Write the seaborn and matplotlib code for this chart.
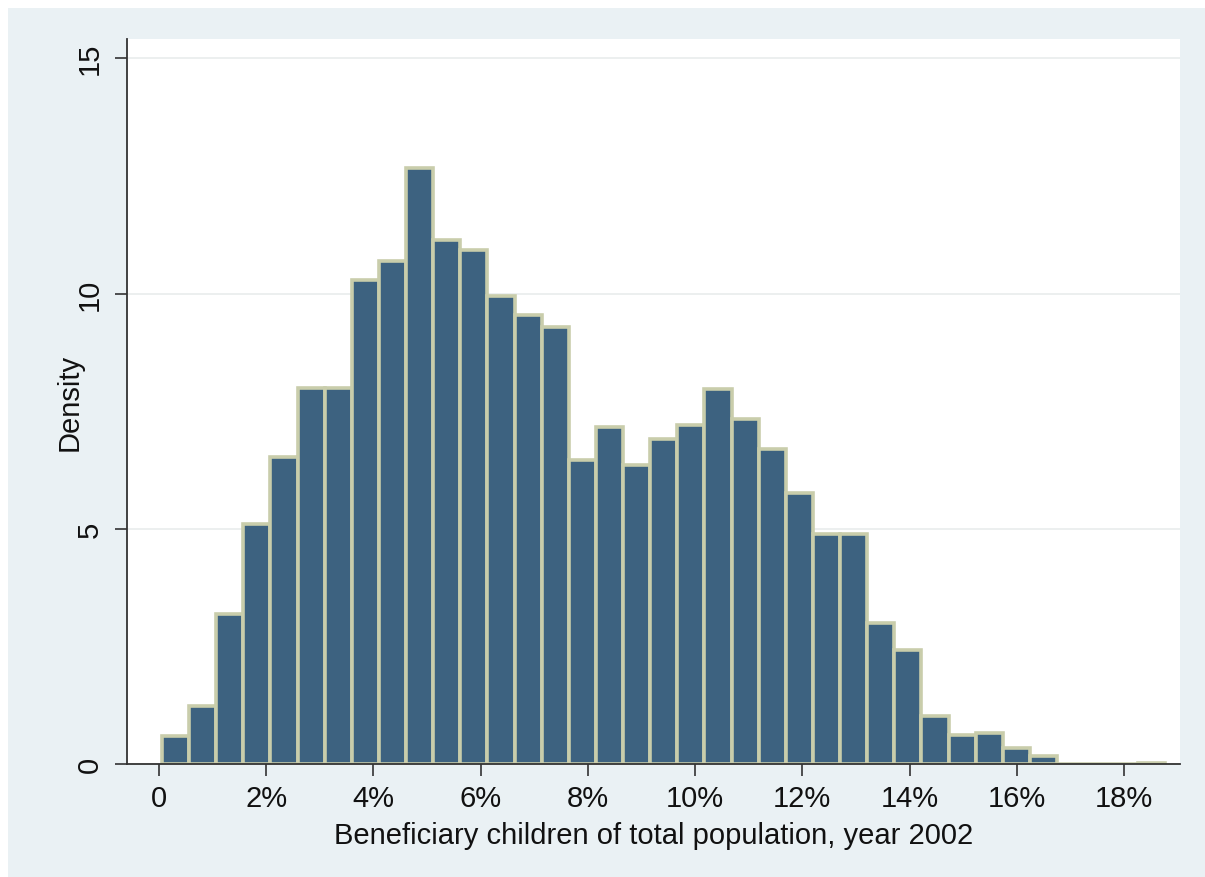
import numpy as np
import pandas as pd
import matplotlib
matplotlib.use("Agg")
import matplotlib.pyplot as plt
from matplotlib.patches import Rectangle
from matplotlib.ticker import FuncFormatter
import seaborn as sns

# Histogram of the share of beneficiary children in the total population (2002)
bin_start = 0.00056          # left edge of the first bin (share, 0-1)
bin_width = 0.005059         # width of each bin
density = [
    0.60, 1.24, 3.18, 5.10, 6.53, 8.00, 8.00, 10.28, 10.69, 12.66,
    11.14, 10.92, 9.94, 9.55, 9.29, 6.46, 7.17, 6.35, 6.90, 7.20,
    7.98, 7.33, 6.69, 5.75, 4.88, 4.88, 3.00, 2.43, 1.03, 0.61,
    0.65, 0.35, 0.16, 0.00, 0.00, 0.00, 0.03,
]
x_ticks = [0.0, 0.02, 0.04, 0.06, 0.08, 0.10, 0.12, 0.14, 0.16, 0.18]
y_ticks = [0, 5, 10, 15]
x_title = "Beneficiary children of total population, year 2002"
y_title = "Density"

n_bins = len(density)
edges = [bin_start + bin_width * i for i in range(n_bins + 1)]
centers = [(edges[i] + edges[i + 1]) / 2 for i in range(n_bins)]
df = pd.DataFrame({"share": centers, "density": density})

sns.set_theme(style="white")
plt.rcParams["font.family"] = ["Liberation Sans", "DejaVu Sans"]

bg = "#EAF1F4"
bar_fill = "#3D6280"
bar_edge = "#C9CDAB"
ink = "#111111"
fs = 21

fig = plt.figure(figsize=(12.05, 8.78), dpi=100, facecolor=bg)
# thin white margin along the top and left edges of the canvas
fig.patches.append(Rectangle((0, 1 - 9 / 878), 1, 9 / 878, transform=fig.transFigure,
                             facecolor="white", edgecolor="none", zorder=-5))
fig.patches.append(Rectangle((0, 0), 8 / 1205, 1, transform=fig.transFigure,
                             facecolor="white", edgecolor="none", zorder=-5))

ax = fig.add_axes([127 / 1205, 1 - 765 / 878, (1180 - 127) / 1205, (765 - 40) / 878])
ax.set_facecolor("white")

sns.histplot(data=df, x="share", weights="density", bins=edges, stat="count",
             color=bar_fill, alpha=1.0, edgecolor=bar_edge, linewidth=2.6,
             ax=ax)

ax.set_xlim(-0.00597, 0.19045)
ax.set_ylim(0, 15.41)
ax.set_xticks(x_ticks)
ax.set_yticks(y_ticks)
ax.xaxis.set_major_formatter(FuncFormatter(lambda v, p: "0" if v == 0 else f"{v * 100:.0f}%"))
ax.yaxis.set_major_formatter(FuncFormatter(lambda v, p: f"{v:.0f}"))

ax.grid(axis="y", color="#EBEEEE", linewidth=1.3, zorder=0)
ax.grid(axis="x", visible=False)
ax.set_axisbelow(True)

for side in ("top", "right"):
    ax.spines[side].set_visible(False)
for side in ("left", "bottom"):
    ax.spines[side].set_color("#333333")
    ax.spines[side].set_linewidth(1.3)
    ax.spines[side].set_zorder(5)

ax.tick_params(axis="both", which="major", direction="out", length=8.6, width=1.2,
               color="#333333", labelsize=fs, labelcolor=ink,
               bottom=True, left=True)
ax.tick_params(axis="x", pad=6)
ax.tick_params(axis="y", pad=8)
for lbl in ax.get_yticklabels():
    lbl.set_rotation(90)
    lbl.set_verticalalignment("center")

ax.set_xlabel(x_title, fontsize=fs, color=ink, labelpad=6.5)
ax.set_ylabel(y_title, fontsize=fs, color=ink)
ax.yaxis.set_label_coords(-0.0408, 0.5)

fig.savefig("out.png", dpi=100, facecolor=fig.get_facecolor())
